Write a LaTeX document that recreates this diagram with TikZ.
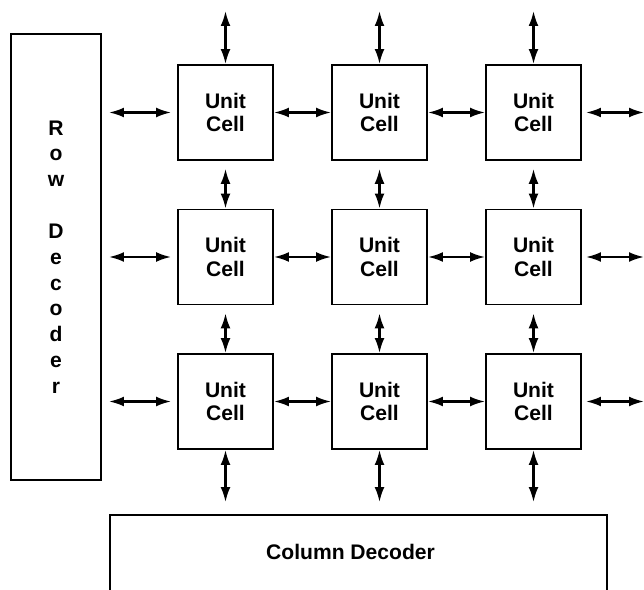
\documentclass[tikz,border=0pt]{standalone}
\usepackage{fontspec}
\setmainfont{Liberation Sans}
\usetikzlibrary{arrows.meta,calc}
\begin{document}
\begin{tikzpicture}[
    x=0.02cm, y=-0.02cm,
    >={Latex[length=8.5pt,width=5.6pt]},
    box/.style={draw, line width=1.1pt, inner sep=0pt, align=center,
      font=\fontsize{12}{13.6}\selectfont\bfseries},
    cell/.style={box, minimum width=1.9cm, minimum height=1.9cm},
    link/.style={<->, line width=1.2pt},
  ]
    \clip (0,0) rectangle (644,590);
    \def\dx{154}% column step
    \def\dy{144.5}% row step
    \coordinate (edge) at (644,0);
    % Row decoder, one letter per line
    \node[box, minimum width=1.8cm, minimum height=8.92cm,
      font=\fontsize{12}{14.7}\selectfont\bfseries] (rowdec) at (56,257)
      {R\\o\\w\\~\\D\\e\\c\\o\\d\\e\\r};
    % Column decoder, runs off the lower edge
    \node[box, minimum width=9.94cm, minimum height=3cm, anchor=north] (coldec) at (358.5,514) {};
    \node[font=\fontsize{12}{13.6}\selectfont\bfseries] (coltext) at ($(coldec.north)+(-8,38)$) {Column Decoder};
    % Unit cells
    \foreach \row in {1,2,3} {
      \foreach \col in {1,2,3} {
        \node[cell] (c\row\col) at ({225.5+(\col-1)*\dx}, {112.5+(\row-1)*\dy}) {Unit\\Cell};
      }
    }
    % Vertical links: top edge, between rows, column decoder
    \foreach \col in {1,2,3} {
      \coordinate (top\col) at ($(c1\col.north)+(0,-53)$);
      \draw[link] (top\col) -- (c1\col.north);
      \draw[link, shorten <=4.5pt] (c1\col) -- (c2\col);
      \draw[link, shorten <=4.5pt] (c2\col) -- (c3\col);
      \draw[link, shorten >=6.8pt] (c3\col.south) -- (c3\col.south |- coldec.north);
    }
    % Horizontal links: row decoder, between cells, right edge
    \foreach \row in {1,2,3} {
      \draw[link, shorten <=4pt, shorten >=3.4pt] (rowdec.east |- c\row1) -- (c\row1.west);
      \draw[link] (c\row1) -- (c\row2);
      \draw[link] (c\row2) -- (c\row3);
      \draw[link, shorten <=2.3pt] (c\row3.east) -- (c\row3 -| edge);
    }
\end{tikzpicture}
\end{document}
